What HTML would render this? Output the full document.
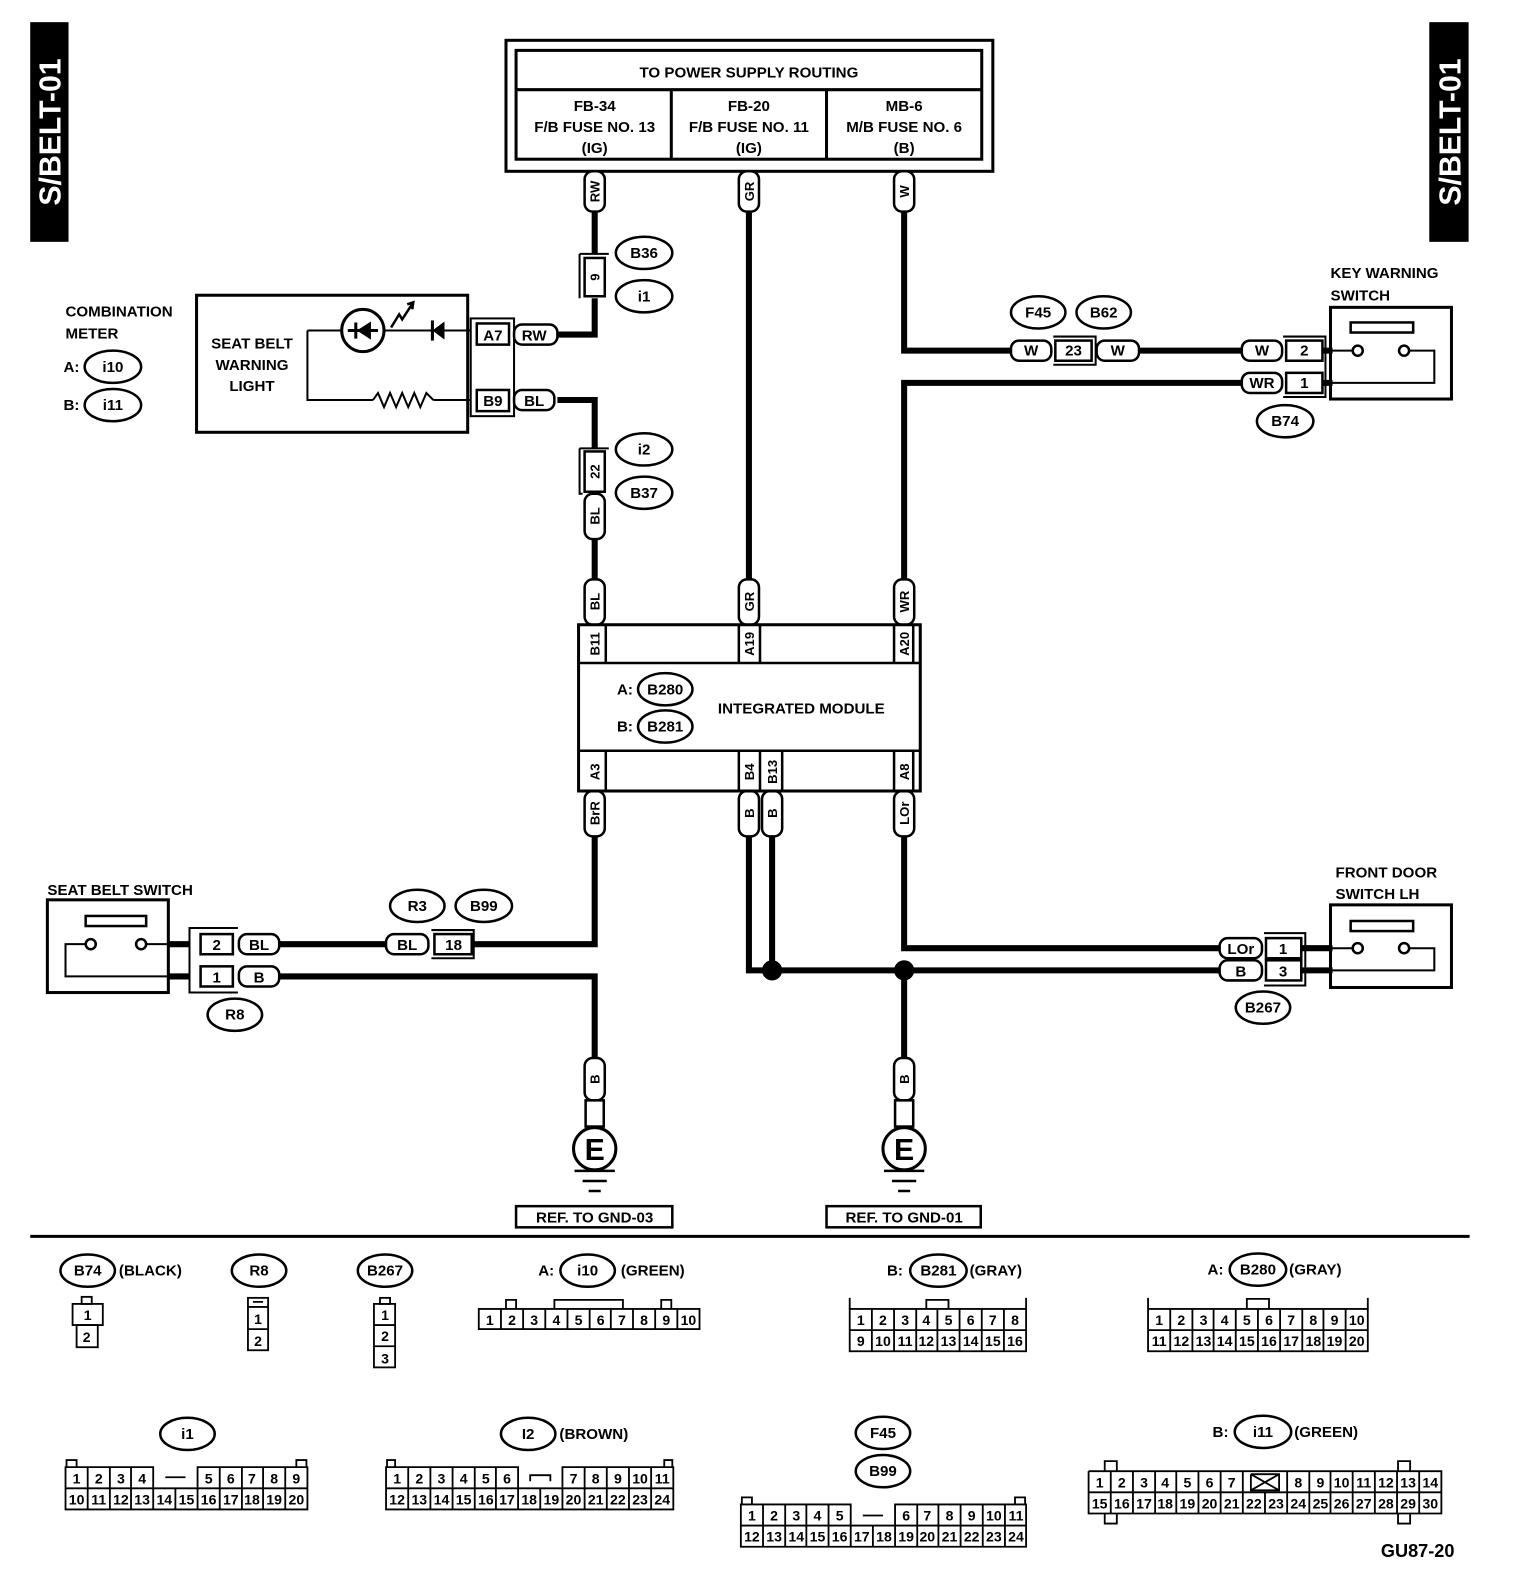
<!DOCTYPE html>
<html><head><meta charset="utf-8"><style>
html,body{margin:0;padding:0;background:#fff;}
svg{display:block;}
text{font-family:"Liberation Sans",sans-serif;font-weight:bold;fill:#000;}
</style></head><body>
<svg width="1520" height="1580" viewBox="0 0 1508 1568" preserveAspectRatio="none" xmlns="http://www.w3.org/2000/svg">
<g font-size="15" text-anchor="middle">
<!-- side tabs -->
<rect x="30" y="22" width="38" height="218" fill="#000"/>
<text transform="translate(60,131) rotate(-90)" font-size="30" font-weight="normal" style="fill:#fff">S/BELT-01</text>
<rect x="1418" y="22" width="39" height="218" fill="#000"/>
<text transform="translate(1449,131) rotate(-90)" font-size="30" font-weight="normal" style="fill:#fff">S/BELT-01</text>

<!-- power box -->
<rect x="502" y="40" width="483" height="130" fill="none" stroke="#000" stroke-width="3"/>
<rect x="512" y="50" width="462" height="108" fill="none" stroke="#000" stroke-width="3"/>
<path d="M512 89H974M666 89V158M820 89V158" stroke="#000" stroke-width="3"/>
<text x="743" y="77">TO POWER SUPPLY ROUTING</text>
<text x="590" y="110">FB-34</text><text x="590" y="131">F/B FUSE NO. 13</text><text x="590" y="152">(IG)</text>
<text x="743" y="110">FB-20</text><text x="743" y="131">F/B FUSE NO. 11</text><text x="743" y="152">(IG)</text>
<text x="897" y="110">MB-6</text><text x="897" y="131">M/B FUSE NO. 6</text><text x="897" y="152">(B)</text>

<!-- thick wires -->
<g stroke="#000" stroke-width="6" fill="none">
<path d="M590 210V252M590 296V332H553"/>
<path d="M553 397H590V445M590 490V492"/>
<path d="M590 535V575"/>
<path d="M743 210V575"/>
<path d="M897 210V348H1003M1130 348H1232"/>
<path d="M1232 380H897V575"/>
<path d="M590 830V937H470M383 937H277"/>
<path d="M277 969H590V1050"/>
<path d="M743 830V963H1210M766 830V963"/>
<path d="M897 963V1050"/>
<path d="M897 830V941H1210"/>
<path d="M1313 348H1322M1313 380H1322M1292 941H1322M1292 963H1322M167 937H188M167 969H188"/>
</g>
<circle cx="766" cy="963" r="10" fill="#000"/>
<circle cx="897" cy="963" r="10" fill="#000"/>

<!-- vertical pills -->
<g fill="#fff" stroke="#000" stroke-width="2.5">
<rect x="580" y="170" width="20" height="40" rx="8"/>
<rect x="733" y="170" width="20" height="40" rx="8"/>
<rect x="887" y="170" width="20" height="40" rx="8"/>
<rect x="580" y="490" width="20" height="45" rx="8"/>
<rect x="580" y="575" width="20" height="45" rx="8"/>
<rect x="733" y="575" width="20" height="45" rx="8"/>
<rect x="887" y="575" width="20" height="45" rx="8"/>
<rect x="580" y="785" width="20" height="45" rx="8"/>
<rect x="733" y="785" width="20" height="45" rx="8"/>
<rect x="756" y="785" width="20" height="45" rx="8"/>
<rect x="887" y="785" width="20" height="45" rx="8"/>
<rect x="580" y="1050" width="20" height="42" rx="8"/>
<rect x="887" y="1050" width="20" height="42" rx="8"/>
<rect x="581" y="1092" width="18" height="26"/>
<rect x="888" y="1092" width="18" height="26"/>
</g>
<g font-size="13">
<text transform="translate(595,190) rotate(-90)">RW</text>
<text transform="translate(748,190) rotate(-90)">GR</text>
<text transform="translate(902,190) rotate(-90)">W</text>
<text transform="translate(595,512) rotate(-90)">BL</text>
<text transform="translate(595,597) rotate(-90)">BL</text>
<text transform="translate(748,597) rotate(-90)">GR</text>
<text transform="translate(902,597) rotate(-90)">WR</text>
<text transform="translate(595,807) rotate(-90)">BrR</text>
<text transform="translate(748,807) rotate(-90)">B</text>
<text transform="translate(771,807) rotate(-90)">B</text>
<text transform="translate(902,807) rotate(-90)">LOr</text>
<text transform="translate(595,1071) rotate(-90)">B</text>
<text transform="translate(902,1071) rotate(-90)">B</text>
</g>

<!-- inline connectors B36/i1 and i2/B37 -->
<g fill="#fff" stroke="#000" stroke-width="2.5">
<rect x="580" y="256" width="20" height="38"/>
<rect x="580" y="448" width="20" height="40"/>
</g>
<path d="M575 252H604M575 252V296M575 445V490H578M575 445H604" stroke="#000" stroke-width="2" fill="none"/>
<text transform="translate(595,275) rotate(-90)" font-size="13">9</text>
<text transform="translate(595,468) rotate(-90)" font-size="13">22</text>

<!-- integrated module -->
<rect x="574" y="620" width="339" height="165" fill="#fff" stroke="#000" stroke-width="3"/>
<path d="M574 658H913M574 745H913M601 620V658M733 620V658M754 620V658M887 620V658M906 620V658M601 745V785M733 745V785M776 745V785M887 745V785M906 745V785M754 745V785" stroke="#000" stroke-width="2.5"/>
<g font-size="13">
<text transform="translate(595,639) rotate(-90)">B11</text>
<text transform="translate(748,639) rotate(-90)">A19</text>
<text transform="translate(902,639) rotate(-90)">A20</text>
<text transform="translate(595,766) rotate(-90)">A3</text>
<text transform="translate(748,766) rotate(-90)">B4</text>
<text transform="translate(771,766) rotate(-90)">B13</text>
<text transform="translate(902,766) rotate(-90)">A8</text>
</g>
<text x="620" y="689">A:</text><text x="620" y="726">B:</text>
<text x="795" y="708">INTEGRATED MODULE</text>

<!-- ellipses -->
<g fill="#fff" stroke="#000" stroke-width="2.5">
<ellipse cx="639" cy="251" rx="28" ry="16"/><ellipse cx="639" cy="294" rx="28" ry="16"/>
<ellipse cx="639" cy="446" rx="28" ry="16"/><ellipse cx="639" cy="489" rx="28" ry="16"/>
<ellipse cx="112" cy="364" rx="28" ry="16"/><ellipse cx="112" cy="402" rx="28" ry="16"/>
<ellipse cx="1030" cy="310" rx="27" ry="16"/><ellipse cx="1095" cy="310" rx="27" ry="16"/>
<ellipse cx="1275" cy="418" rx="28" ry="16"/>
<ellipse cx="660" cy="684" rx="27" ry="16"/><ellipse cx="660" cy="721" rx="27" ry="16"/>
<ellipse cx="414" cy="899" rx="27" ry="16"/><ellipse cx="480" cy="899" rx="28" ry="16"/>
<ellipse cx="233" cy="1007" rx="27" ry="16"/><ellipse cx="1253" cy="1000" rx="27" ry="16"/>
</g>
<text x="639" y="256">B36</text><text x="639" y="299">i1</text>
<text x="639" y="451">i2</text><text x="639" y="494">B37</text>
<text x="112" y="369">i10</text><text x="112" y="407">i11</text>
<text x="1030" y="315">F45</text><text x="1095" y="315">B62</text>
<text x="1275" y="423">B74</text>
<text x="660" y="689">B280</text><text x="660" y="726">B281</text>
<text x="414" y="904">R3</text><text x="480" y="904">B99</text>
<text x="233" y="1012">R8</text><text x="1253" y="1005">B267</text>

<!-- combination meter -->
<g text-anchor="start"><text x="65" y="314">COMBINATION</text><text x="65" y="336">METER</text>
<text x="63" y="369">A:</text><text x="63" y="407">B:</text></g>
<rect x="195" y="293" width="269" height="136" fill="none" stroke="#000" stroke-width="3"/>
<text x="250" y="346">SEAT BELT</text><text x="250" y="367">WARNING</text><text x="250" y="388">LIGHT</text>
<path d="M305 328H467M305 328V397H370M430 397H467" stroke="#000" stroke-width="2" fill="none"/>
<polyline points="370,397 375,390 381,404 387,390 393,404 399,390 405,404 411,390 417,404 423,390 430,397" fill="none" stroke="#000" stroke-width="2"/>
<circle cx="360" cy="328" r="21" fill="#fff" stroke="#000" stroke-width="3"/>
<path d="M345 328H375M353 320V336" stroke="#000" stroke-width="3"/>
<polygon points="354,328 368,319 368,337" fill="#000"/>
<polygon points="429,328 441,319 441,337" fill="#000"/><path d="M429 318V338" stroke="#000" stroke-width="3"/>
<path d="M388 325L396 312L399 317L410 300M404 302L410 300L409 307" stroke="#000" stroke-width="2.5" fill="none"/>
<rect x="467" y="316" width="43" height="97" fill="none" stroke="#000" stroke-width="2"/>
<g fill="#fff" stroke="#000" stroke-width="2.5">
<rect x="473" y="321" width="32" height="21"/><rect x="473" y="387" width="32" height="21"/>
<rect x="510" y="322" width="43" height="20" rx="8"/><rect x="510" y="387" width="40" height="20" rx="8"/>
</g>
<text x="489" y="338">A7</text><text x="489" y="403">B9</text>
<text x="530" y="338">RW</text><text x="530" y="403">BL</text>

<!-- F45/B62 inline and key warning -->
<g fill="#fff" stroke="#000" stroke-width="2.5">
<rect x="1003" y="338" width="40" height="20" rx="8"/>
<rect x="1047" y="338" width="36" height="20"/>
<rect x="1088" y="338" width="42" height="20" rx="8"/>
<rect x="1232" y="338" width="40" height="20" rx="8"/>
<rect x="1232" y="370" width="40" height="20" rx="8"/>
<rect x="1276" y="338" width="36" height="20"/>
<rect x="1276" y="370" width="36" height="20"/>
</g>
<path d="M1045 334H1087V362H1045M1273 334H1315V394H1273" stroke="#000" stroke-width="2" fill="none"/>
<text x="1023" y="353">W</text><text x="1065" y="353">23</text><text x="1109" y="353">W</text>
<text x="1252" y="353">W</text><text x="1252" y="385">WR</text><text x="1294" y="353">2</text><text x="1294" y="385">1</text>
<g text-anchor="start"><text x="1320" y="276">KEY WARNING</text><text x="1320" y="298">SWITCH</text></g>
<rect x="1320" y="305" width="120" height="91" fill="none" stroke="#000" stroke-width="3"/>
<rect x="1340" y="320" width="62" height="10" fill="none" stroke="#000" stroke-width="2.5"/>
<path d="M1322 348H1342M1398 348H1423V380H1322" stroke="#000" stroke-width="2" fill="none"/>
<circle cx="1347" cy="348" r="5" fill="#fff" stroke="#000" stroke-width="2.5"/><circle cx="1393" cy="348" r="5" fill="#fff" stroke="#000" stroke-width="2.5"/>

<!-- seat belt switch -->
<text x="47" y="888" text-anchor="start">SEAT BELT SWITCH</text>
<rect x="47" y="893" width="120" height="92" fill="none" stroke="#000" stroke-width="3"/>
<rect x="85" y="909" width="60" height="10" fill="none" stroke="#000" stroke-width="2.5"/>
<path d="M85 937H65V969H188M145 937H188" stroke="#000" stroke-width="2" fill="none"/>
<circle cx="90" cy="937" r="5" fill="#fff" stroke="#000" stroke-width="2.5"/><circle cx="140" cy="937" r="5" fill="#fff" stroke="#000" stroke-width="2.5"/>
<path d="M236 921H188V985H236" stroke="#000" stroke-width="2" fill="none"/>
<g fill="#fff" stroke="#000" stroke-width="2.5">
<rect x="199" y="927" width="32" height="20"/><rect x="199" y="959" width="32" height="20"/>
<rect x="237" y="927" width="40" height="20" rx="8"/><rect x="237" y="959" width="40" height="20" rx="8"/>
<rect x="383" y="927" width="42" height="20" rx="8"/><rect x="431" y="927" width="37" height="20"/>
</g>
<path d="M428 923H470V951H428" stroke="#000" stroke-width="2" fill="none"/>
<text x="215" y="943">2</text><text x="215" y="975">1</text><text x="257" y="943">BL</text><text x="257" y="975">B</text>
<text x="404" y="943">BL</text><text x="450" y="943">18</text>

<!-- front door switch -->
<g text-anchor="start"><text x="1325" y="871">FRONT DOOR</text><text x="1325" y="892">SWITCH LH</text></g>
<rect x="1320" y="898" width="120" height="82" fill="none" stroke="#000" stroke-width="3"/>
<rect x="1340" y="914" width="62" height="10" fill="none" stroke="#000" stroke-width="2.5"/>
<path d="M1322 941H1342M1398 941H1423V963H1322" stroke="#000" stroke-width="2" fill="none"/>
<circle cx="1347" cy="941" r="5" fill="#fff" stroke="#000" stroke-width="2.5"/><circle cx="1393" cy="941" r="5" fill="#fff" stroke="#000" stroke-width="2.5"/>
<path d="M1254 926H1295V978H1254" stroke="#000" stroke-width="2" fill="none"/>
<g fill="#fff" stroke="#000" stroke-width="2.5">
<rect x="1210" y="931" width="42" height="20" rx="8"/><rect x="1210" y="953" width="42" height="20" rx="8"/>
<rect x="1256" y="931" width="35" height="20"/><rect x="1256" y="953" width="35" height="20"/>
</g>
<text x="1231" y="947">LOr</text><text x="1231" y="969">B</text><text x="1273" y="947">1</text><text x="1273" y="969">3</text>

<!-- grounds -->
<g fill="#fff" stroke="#000" stroke-width="3">
<circle cx="590" cy="1140" r="21"/><circle cx="897" cy="1140" r="21"/>
</g>
<text x="590" y="1151" font-size="30">E</text><text x="897" y="1151" font-size="30">E</text>
<path d="M570 1162H610M578 1172H602M584 1182H596M877 1162H917M885 1172H909M891 1182H903" stroke="#000" stroke-width="2.5"/>
<rect x="512" y="1197" width="155" height="21" fill="none" stroke="#000" stroke-width="2.5"/>
<rect x="820" y="1197" width="153" height="21" fill="none" stroke="#000" stroke-width="2.5"/>
<text x="590" y="1213">REF. TO GND-03</text><text x="897" y="1213">REF. TO GND-01</text>
<path d="M30 1227H1458" stroke="#000" stroke-width="3"/>

<!-- bottom legend labels -->
<g fill="#fff" stroke="#000" stroke-width="2.5">
<ellipse cx="87" cy="1261" rx="27" ry="16"/><ellipse cx="257" cy="1261" rx="27" ry="16"/><ellipse cx="382" cy="1261" rx="27" ry="16"/>
<ellipse cx="583" cy="1261" rx="27" ry="16"/><ellipse cx="931" cy="1261" rx="28" ry="16"/><ellipse cx="1248" cy="1260" rx="28" ry="16"/>
<ellipse cx="186" cy="1423" rx="27" ry="16"/><ellipse cx="524" cy="1423" rx="27" ry="16"/>
<ellipse cx="876" cy="1422" rx="27" ry="16"/><ellipse cx="876" cy="1460" rx="27" ry="16"/><ellipse cx="1253" cy="1421" rx="28" ry="16"/>
</g>
<text x="87" y="1266">B74</text><text x="257" y="1266">R8</text><text x="382" y="1266">B267</text>
<text x="583" y="1266">i10</text><text x="931" y="1266">B281</text><text x="1248" y="1265">B280</text>
<text x="186" y="1428">i1</text><text x="524" y="1428">I2</text><text x="876" y="1427">F45</text><text x="876" y="1465">B99</text><text x="1253" y="1426">i11</text>
<g text-anchor="start">
<text x="118" y="1266">(BLACK)</text>
<text x="534" y="1266">A:</text><text x="616" y="1266">(GREEN)</text>
<text x="880" y="1266">B:</text><text x="962" y="1266">(GRAY)</text>
<text x="1198" y="1265">A:</text><text x="1279" y="1265">(GRAY)</text>
<text x="555" y="1428">(BROWN)</text>
<text x="1203" y="1426">B:</text><text x="1284" y="1426">(GREEN)</text>
<text x="1370" y="1545" font-weight="normal" font-size="18">GU87-20</text>
</g>

<!-- connector grids -->
<g fill="none" stroke="#000" stroke-width="1.8">
<rect x="81" y="1287" width="10" height="7"/><rect x="72" y="1294" width="30" height="21"/><rect x="76" y="1315" width="21" height="22"/>
<rect x="246" y="1288" width="20" height="52"/><path d="M246 1297H266M246 1319H266M251 1292H261"/>
<rect x="377" y="1288" width="10" height="6"/><rect x="371" y="1294" width="21" height="63"/><path d="M371 1315H392M371 1336H392"/>
<rect x="475" y="1299" width="219" height="20"/>
<path d="M497 1299V1319M519 1299V1319M541 1299V1319M563 1299V1319M585 1299V1319M606 1299V1319M628 1299V1319M650 1299V1319M672 1299V1319"/>
<path d="M502 1299V1290H512V1299M550 1299V1290H618V1299M656 1299V1290H666V1299"/>
<rect x="843" y="1299" width="175" height="42"/>
<path d="M843 1320H1018M865 1299V1341M887 1299V1341M909 1299V1341M930 1299V1341M952 1299V1341M974 1299V1341M996 1299V1341"/>
<path d="M843 1299V1288M1018 1299V1288M919 1299V1290H941V1299"/>
<rect x="1139" y="1299" width="218" height="42"/>
<path d="M1139 1320H1357M1161 1299V1341M1183 1299V1341M1204 1299V1341M1226 1299V1341M1248 1299V1341M1270 1299V1341M1292 1299V1341M1313 1299V1341M1335 1299V1341"/>
<path d="M1139 1299V1288M1357 1299V1288M1237 1299V1289H1259V1299"/>
<path d="M65 1477V1456H152V1477M196 1477V1456H305V1477M65 1477H305V1498H65V1477 M87 1456V1498M109 1456V1498M130 1456V1498M152 1477V1498M174 1477V1498M196 1477V1498M218 1456V1498M240 1456V1498M261 1456V1498M283 1456V1498 M164 1466H184 M66 1456V1449H76V1456M294 1456V1449H304V1456"/>
<path d="M383 1477V1456H514V1477M558 1477V1456H668V1477M383 1477H668V1498H383V1477 M405 1456V1498M427 1456V1498M449 1456V1498M471 1456V1498M492 1456V1498M514 1477V1498M536 1477V1498M558 1477V1498M580 1456V1498M602 1456V1498M624 1456V1498M646 1456V1498 M526 1470V1464H546V1470 M384 1456V1449H392V1456M659 1456V1449H667V1456"/>
<path d="M735 1514V1493H844V1514M888 1514V1493H1018V1514M735 1514H1018V1535H735V1514 M757 1493V1535M779 1493V1535M800 1493V1535M822 1493V1535M844 1514V1535M866 1514V1535M888 1514V1535M910 1493V1535M931 1493V1535M953 1493V1535M975 1493V1535M997 1493V1535 M856 1504H876 M736 1493V1486H746V1493M1007 1493V1486H1017V1493"/>
<path d="M1080 1460H1430V1502H1080V1460 M1080 1481H1430 M1102 1460V1502M1124 1460V1502M1146 1460V1502M1167 1460V1502M1189 1460V1502M1211 1460V1502M1233 1460V1502M1255 1481V1502M1277 1460V1502M1299 1460V1502M1320 1460V1502M1342 1460V1502M1364 1460V1502M1386 1460V1502M1408 1460V1502 M1241 1463L1269 1479M1269 1463L1241 1479M1241 1463H1269V1479H1241V1463 M1096 1460V1450H1108V1460M1096 1502V1512H1108V1502M1387 1460V1450H1399V1460M1387 1502V1512H1399V1502"/>
</g>
<g font-size="14" font-weight="normal">
<text x="87" y="1310">1</text><text x="86" y="1332">2</text>
<text x="256" y="1314">1</text><text x="256" y="1336">2</text>
<text x="382" y="1310">1</text><text x="382" y="1331">2</text><text x="382" y="1353">3</text>
<text x="486" y="1315">1</text><text x="508" y="1315">2</text><text x="530" y="1315">3</text><text x="552" y="1315">4</text><text x="574" y="1315">5</text><text x="596" y="1315">6</text><text x="617" y="1315">7</text><text x="639" y="1315">8</text><text x="661" y="1315">9</text><text x="683" y="1315">10</text>
<text x="854" y="1315">1</text><text x="876" y="1315">2</text><text x="898" y="1315">3</text><text x="919" y="1315">4</text><text x="941" y="1315">5</text><text x="963" y="1315">6</text><text x="985" y="1315">7</text><text x="1007" y="1315">8</text>
<text x="854" y="1336">9</text><text x="876" y="1336">10</text><text x="898" y="1336">11</text><text x="919" y="1336">12</text><text x="941" y="1336">13</text><text x="963" y="1336">14</text><text x="985" y="1336">15</text><text x="1007" y="1336">16</text>
<text x="1150" y="1315">1</text><text x="1172" y="1315">2</text><text x="1194" y="1315">3</text><text x="1215" y="1315">4</text><text x="1237" y="1315">5</text><text x="1259" y="1315">6</text><text x="1281" y="1315">7</text><text x="1303" y="1315">8</text><text x="1324" y="1315">9</text><text x="1346" y="1315">10</text>
<text x="1150" y="1336">11</text><text x="1172" y="1336">12</text><text x="1194" y="1336">13</text><text x="1215" y="1336">14</text><text x="1237" y="1336">15</text><text x="1259" y="1336">16</text><text x="1281" y="1336">17</text><text x="1303" y="1336">18</text><text x="1324" y="1336">19</text><text x="1346" y="1336">20</text>
<text x="76" y="1472">1</text><text x="98" y="1472">2</text><text x="120" y="1472">3</text><text x="141" y="1472">4</text><text x="207" y="1472">5</text><text x="229" y="1472">6</text><text x="250" y="1472">7</text><text x="272" y="1472">8</text><text x="294" y="1472">9</text>
<text x="76" y="1493">10</text><text x="98" y="1493">11</text><text x="120" y="1493">12</text><text x="141" y="1493">13</text><text x="163" y="1493">14</text><text x="185" y="1493">15</text><text x="207" y="1493">16</text><text x="229" y="1493">17</text><text x="250" y="1493">18</text><text x="272" y="1493">19</text><text x="294" y="1493">20</text>
<text x="394" y="1472">1</text><text x="416" y="1472">2</text><text x="438" y="1472">3</text><text x="460" y="1472">4</text><text x="482" y="1472">5</text><text x="503" y="1472">6</text><text x="569" y="1472">7</text><text x="591" y="1472">8</text><text x="613" y="1472">9</text><text x="635" y="1472">10</text><text x="657" y="1472">11</text>
<text x="394" y="1493">12</text><text x="416" y="1493">13</text><text x="438" y="1493">14</text><text x="460" y="1493">15</text><text x="482" y="1493">16</text><text x="503" y="1493">17</text><text x="525" y="1493">18</text><text x="547" y="1493">19</text><text x="569" y="1493">20</text><text x="591" y="1493">21</text><text x="613" y="1493">22</text><text x="635" y="1493">23</text><text x="657" y="1493">24</text>
<text x="746" y="1509">1</text><text x="768" y="1509">2</text><text x="790" y="1509">3</text><text x="811" y="1509">4</text><text x="833" y="1509">5</text><text x="899" y="1509">6</text><text x="920" y="1509">7</text><text x="942" y="1509">8</text><text x="964" y="1509">9</text><text x="986" y="1509">10</text><text x="1008" y="1509">11</text>
<text x="746" y="1530">12</text><text x="768" y="1530">13</text><text x="790" y="1530">14</text><text x="811" y="1530">15</text><text x="833" y="1530">16</text><text x="855" y="1530">17</text><text x="877" y="1530">18</text><text x="899" y="1530">19</text><text x="920" y="1530">20</text><text x="942" y="1530">21</text><text x="964" y="1530">22</text><text x="986" y="1530">23</text><text x="1008" y="1530">24</text>
<text x="1091" y="1476">1</text><text x="1113" y="1476">2</text><text x="1135" y="1476">3</text><text x="1156" y="1476">4</text><text x="1178" y="1476">5</text><text x="1200" y="1476">6</text><text x="1222" y="1476">7</text><text x="1288" y="1476">8</text><text x="1310" y="1476">9</text><text x="1331" y="1476">10</text><text x="1353" y="1476">11</text><text x="1375" y="1476">12</text><text x="1397" y="1476">13</text><text x="1419" y="1476">14</text>
<text x="1091" y="1497">15</text><text x="1113" y="1497">16</text><text x="1135" y="1497">17</text><text x="1156" y="1497">18</text><text x="1178" y="1497">19</text><text x="1200" y="1497">20</text><text x="1222" y="1497">21</text><text x="1244" y="1497">22</text><text x="1266" y="1497">23</text><text x="1288" y="1497">24</text><text x="1310" y="1497">25</text><text x="1331" y="1497">26</text><text x="1353" y="1497">27</text><text x="1375" y="1497">28</text><text x="1397" y="1497">29</text><text x="1419" y="1497">30</text>
</g>
</g>
</svg>
</body></html>
